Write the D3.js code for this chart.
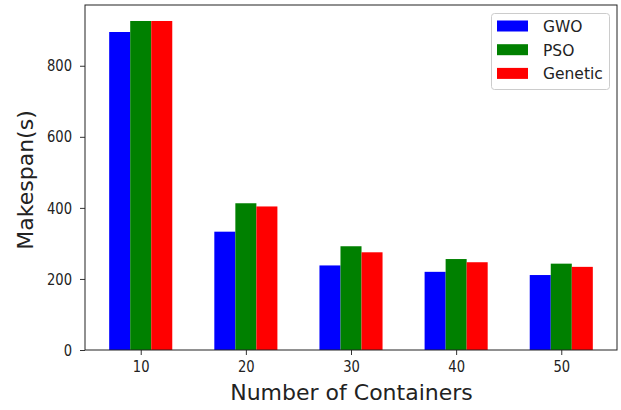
<!DOCTYPE html>
<html><head><meta charset="utf-8">
<script src="https://cdn.jsdelivr.net/npm/d3@7"></script>
<style>body{margin:0;background:#fff}svg{display:block}text{font-family:"DejaVu Sans",sans-serif}</style>
</head><body>
<script>
const categories = [10, 20, 30, 40, 50];
const gwo = [895, 333, 238, 220, 211];
const pso = [926, 413, 292, 256, 243];
const genetic = [926, 404, 275, 247, 234];
const seriesNames = ["GWO", "PSO", "Genetic"];
const seriesColors = ["#0000ff", "#008000", "#ff0000"];
const offsets = [-2, 0, 2];
const yTicks = [0, 200, 400, 600, 800];

const W = 621, H = 410;
const m = {l: 85, r: 4, t: 5, b: 60};
const svg = d3.select("body").append("svg").attr("width", W).attr("height", H);
const x = d3.scaleLinear().domain([4.7, 55.3]).range([m.l, W - m.r]);
const y = d3.scaleLinear().domain([0, 971]).range([H - m.b, m.t]);
const series = [gwo, pso, genetic];

series.forEach((vals, si) => {
  svg.append("g").selectAll("rect").data(vals).join("rect")
    .attr("x", (d, i) => x(categories[i] + offsets[si] - 1))
    .attr("width", (d, i) => x(categories[i] + offsets[si] + 1) - x(categories[i] + offsets[si] - 1))
    .attr("y", d => y(d))
    .attr("height", d => y(0) - y(d))
    .attr("fill", seriesColors[si]);
});

const xa = svg.append("g").attr("transform", `translate(0,${H - m.b})`)
  .call(d3.axisBottom(x).tickValues(categories).tickSize(5).tickPadding(6).tickFormat(d3.format("d")));
const ya = svg.append("g").attr("transform", `translate(${m.l},0)`)
  .call(d3.axisLeft(y).tickValues(yTicks).tickSize(5).tickPadding(8).tickFormat(d3.format("d")));
[xa, ya].forEach(a => {
  a.select(".domain").remove();
  a.selectAll("text").attr("font-size", 16).attr("fill", "#222").attr("font-family", "DejaVu Sans");
  a.selectAll("line").attr("stroke", "#333");
});
xa.selectAll("text").attr("transform", "scale(0.82,1)");
ya.selectAll("text").attr("x", -13 / 0.82).attr("transform", "scale(0.82,1)");
svg.append("rect").attr("x", m.l).attr("y", m.t).attr("width", W - m.r - m.l).attr("height", H - m.b - m.t)
  .attr("fill", "none").attr("stroke", "#222").attr("stroke-width", 1);

svg.append("text").attr("x", (m.l + W - m.r) / 2 + 0.5).attr("y", 400).attr("text-anchor", "middle")
  .attr("font-size", 22).attr("fill", "#222").text("Number of Containers");
svg.append("text").attr("transform", `translate(33,180) rotate(-90)`).attr("text-anchor", "middle")
  .attr("font-size", 22).attr("fill", "#222").text("Makespan(s)");

const lg = svg.append("g");
lg.append("rect").attr("x", 491.5).attr("y", 13.5).attr("width", 118).attr("height", 76).attr("rx", 3)
  .attr("fill", "#fff").attr("stroke", "#ccc");
seriesNames.forEach((n, i) => {
  const cy = 26 + i * 23.7;
  lg.append("rect").attr("x", 497).attr("y", cy - 5.5).attr("width", 31).attr("height", 11).attr("fill", seriesColors[i]);
  lg.append("text").attr("x", 543).attr("y", cy + 6).attr("font-size", 15.5).attr("fill", "#222").text(n);
});
</script>
</body></html>
